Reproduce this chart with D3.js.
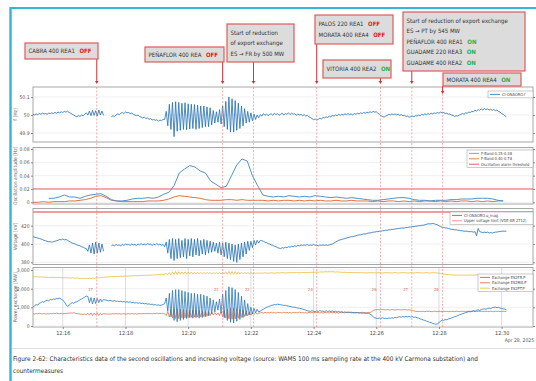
<!DOCTYPE html>
<html lang="en">
<head>
<meta charset="UTF-8">
<title>Second oscillations and increasing voltage</title>
<script src="https://d3js.org/d3.v7.min.js"></script>
<style>
  body { margin: 0; background: #fff; }
  svg text { font-family: "Liberation Sans Narrow", "DejaVu Sans Condensed", "Open Sans", sans-serif; }
</style>
</head>
<body>
<svg id="chart" width="536" height="381"></svg>
<script>
// 3 s grid from 12:15:03 (fast WAMS series)
const freq = [
  50.004,50.000,50.006,50.002,50.008,50.004,50.010,50.006,50.008,50.004,50.010,
  50.008,50.012,50.008,50.014,50.010,50.016,50.012,50.018,50.014,50.020,
  50.016,50.022,50.014,50.010,50.004,50.000,49.994,49.990,49.996,49.992,
  50.000,49.996,50.004,50.012,50.000,50.022,49.996,50.026,49.998,50.024,49.994,50.028,50.000,50.022,49.998,
  null,null,null,null,
  49.990,49.996,49.992,50.000,50.006,50.002,50.010,50.014,50.008,50.016,50.012,
  50.014,50.008,50.010,50.004,50.000,49.996,50.000,49.992,49.988,49.984,
  49.988,49.980,49.984,49.976,49.980,49.972,49.976,49.970,49.974,49.966,49.972,49.968,49.976,
  49.975,50.02,49.94,50.06,49.92,50.07,49.88,50.074,49.91,50.07,
  49.915,50.065,49.92,50.068,49.918,50.062,49.922,50.06,49.925,50.058,
  49.92,50.055,49.925,50.05,49.93,50.05,49.935,50.045,49.935,50.04,
  49.945,50.025,49.955,50.018,49.96,50.03,49.95,50.05,49.935,50.075,
  49.92,50.1,49.905,50.09,49.905,50.08,49.915,50.065,49.925,50.05,
  49.94,50.035,49.955,50.02,49.96,50.012,49.968,50.005,49.975,50.0,
  49.985,
  50.002,49.994,50.008,49.998,50.006,49.996,50.004,
  50.006,49.998,50.010,50.002,50.008,49.998,50.004,50.010,50.000,50.008,50.004,50.012,50.002,50.010,50.004,50.008,49.998,50.006,50.000,50.004,49.996,50.002,49.994,49.998,49.990,
  49.986,49.980,49.974,49.978,49.972,49.976,49.982,49.978,49.986,
  49.984,49.990,49.986,49.994,49.990,49.998,49.994,50.000,49.996,50.004,49.998,50.004,50.000,50.006,50.002,50.008,50.002,
  50.006,50.000,50.008,50.004,50.010,50.006,50.012,50.008,50.014,50.010,50.016,50.012,50.018,50.014,50.020,50.016,50.018,
  50.010,50.004,49.996,49.992,49.988,49.994,49.998,50.004,
  50.000,50.006,50.002,50.006,50.000,50.004,49.998,50.002,49.996,49.998,49.992,49.994,49.988,49.990,
  49.994,49.990,49.996,49.994,50.000,49.996,50.004,50.000,50.006,50.002,50.008,50.004,50.010,50.006,50.012,50.008,50.014,50.010,50.016,50.012,50.014,50.008,50.010,
  50.004,50.006,50.000,49.998,49.992,49.996,49.994,50.000,
  50.004,50.008,50.004,50.012,50.010,50.016,50.014,50.020,50.018,50.026,50.022,50.030,50.026,50.034,50.028,50.036,50.030,50.034,50.028,50.032,50.026,
  50.030,50.024,50.028,50.020,50.016,50.008,50.004,49.996,49.990
];

const voltage = [
  408,407.5,407,406.5,406,405.5,405,404,403.5,403,402.5,
  402.5,402,402.5,403,403.5,404,405,404.5,405.5,404.5,
  405,404,403,402,401,400.5,400,399,398.5,398,
  397,396.5,395.5,395,392,399,390,401,389,402,390,401,391,400,392,
  null,null,null,null,
  398,399,398,399.5,398.5,399,398,399.5,398.5,400,399,
  399.5,398.5,400,399,399.5,398.5,400,399,400.5,399,
  400,399,400.5,399.5,400,398.5,400,399,400.5,399,400,398.5,399.5,
  397,402,390,405,384,406,382,405,384,406,
  385,404,386,406,384,405,387,406,386,405,
  388,406,387,404,389,405,388,404,390,403,
  391,402,392,401,390,402,388,401,386,402,
  384,401,383,400,381,399,380,400,383,401,
  386,402,389,403,393,403,396,404,399,404,
  401,
  404,403.5,403,402,401.5,400.5,400,399,398.5,397.5,397,396,395.5,
  395,396,395.5,396.5,396,397,396.5,397.5,397,398,397.5,398.5,398,399,
  398.5,399,398.5,399.5,398.5,399,398.5,399.5,398.5,399,398,399,398.5,399,
  398.5,399,398.5,399,399.5,400,401,402,403,404,
  404.5,405,405.5,406,406.5,407,407.5,408,408,408.5,409,409.5,
  410,410,410.5,411,411,411.5,412,412,412.5,413,413,413.5,
  413.5,414,414,414.5,414.5,415,415,415.5,415.5,416,416,416.5,416.5,417,417,417.5,417.5,417.5,
  418,418,418.5,418.5,419,419,419.5,419.5,420,420,420.5,420.5,421,421.5,422,422,422,
  422.5,422,421.5,421,420,419,418.5,418,417.5,417.5,417,
  416.5,416,416,415.5,415.5,415,415,414.5,414.5,414,414,414,413.5,413.5,413.5,413,413.5,409,417,413.5,
  413,412.5,413,412.5,413,412,412.5,412,412.5,413,413,413.5,413.5,414,414,414,414
];

const exchangeFR = [
  1010,1080,1150,1120,1220,1250,1300,1280,1350,1380,1350,
  1420,1400,1450,1430,1480,1460,1490,1440,1380,1300,
  1150,1050,1100,1200,1250,1220,1280,1300,1350,1400,
  1450,1500,1550,1600,1580,1250,1520,1180,1500,1200,1480,1250,1450,1300,1420,
  1400,1380,1350,1370,
  1350,1330,1360,1320,1340,1300,1330,1290,1310,1280,1300,
  1270,1290,1250,1270,1230,1250,1220,1240,1200,1220,
  1190,1210,1170,1190,1150,1170,1130,1150,1110,1130,1100,1120,1150,
  1200,1500,800,1750,500,1900,300,1950,230,1950,
  300,1900,350,1850,400,1800,450,1750,420,1750,
  450,1700,420,1700,450,1650,500,1600,550,1500,
  650,1400,750,1300,850,1450,700,1700,450,1900,
  300,2100,200,2050,160,1950,250,1800,350,1600,
  450,1400,550,1200,600,1000,650,950,700,900,
  750,
  800,850,900,950,1000,1030,1060,1100,1120,1150,1130,1170,1150,
  1140,1120,1100,1110,1080,1060,1050,1030,1000,1010,980,960,950,930,900,880,850,820,800,
  780,820,790,760,810,780,830,790,800,760,820,780,800,770,810,760,790,750,780,
  740,770,730,760,720,750,730,740,710,730,700,720,690,710,680,700,670,690,680,
  640,580,500,440,
  420,400,430,410,440,400,420,390,430,410,440,420,460,440,480,
  500,470,510,480,520,490,510,480,500,460,480,
  440,420,380,360,320,300,260,240,200,180,140,120,90,110,
  180,250,320,300,350,330,380,400,430,460,500,520,560,600,
  620,660,680,720,740,770,760,800,820,790,840,860,830,880,900,
  920,890,940,960,930,980,1000,1010,980,1000,960,940,920,900,870
];

const exchangeMA = [
  660,640,670,650,680,660,650,670,640,660,650,
  670,650,680,660,690,670,660,680,650,670,
  660,690,680,700,690,710,680,660,650,640,
  630,620,640,610,680,580,700,560,690,590,700,570,680,600,670,
  640,650,630,650,
  640,660,650,670,650,660,640,650,660,640,650,
  660,640,670,650,660,640,650,670,650,660,
  670,650,680,660,670,650,680,660,690,670,680,660,690,
  650,560,780,480,860,420,900,400,920,400,
  900,420,880,430,870,450,850,460,850,470,
  840,480,830,480,820,500,800,520,780,550,
  750,580,720,600,700,560,760,500,830,430,
  900,380,950,360,960,380,920,420,880,460,
  840,500,800,540,760,580,730,620,700,640,
  690,
  700,720,690,730,700,720,710,740,700,720,690,730,710,720,700,740,710,730,700,720,
  690,730,710,720,700,740,710,730,700,720,690,730,710,720,700,740,710,730,700,720,
  690,730,710,720,700,740,710,730,700,720,690,730,710,720,700,740,710,730,700,720,
  690,730,710,720,700,740,710,730,700,720,
  720,760,820,860,870,880,860,870,880,870,860,880,870,860,880,870,
  860,870,880,870,860,870,880,870,860,870,850,830,810,790,780,
  780,770,790,780,770,790,780,790,770,780,790,780,770,790,780,770,790,780,790,770,
  780,790,780,770,790,780,770,790,780,790,770,780,790,780,770,790,780,770,790,780,
  790,770,780,790,780,770,790,780,770,790,780,790,770,780,790,780,780
];

const exchangePT = [
  2650,2640,2630,2640,2620,2630,2620,2610,2620,2610,2600,
  2610,2600,2610,2590,2600,2590,2600,2590,2580,2590,
  2580,2590,2580,2570,2580,2570,2560,2570,2560,2550,
  2560,2550,2560,2550,2540,2560,2540,2570,2550,2580,2560,2590,2580,2600,2610,
  2620,2630,2620,2640,
  2640,2650,2640,2660,2650,2660,2670,2660,2670,2680,2670,
  2680,2690,2680,2690,2700,2690,2700,2710,2700,2710,
  2720,2710,2720,2730,2720,2730,2740,2730,2740,2750,2740,2750,2760,
  2770,2800,2760,2860,2740,2900,2760,2920,2750,2910,
  2770,2900,2780,2900,2770,2890,2790,2890,2780,2880,
  2790,2880,2800,2870,2790,2870,2800,2860,2810,2860,
  2800,2850,2810,2850,2810,2860,2790,2880,2780,2900,
  2770,2920,2760,2920,2760,2910,2770,2900,2780,2880,
  2790,2870,2800,2860,2810,2850,2820,2850,2820,2840,
  2830,
  2830,2840,2830,2850,2840,2830,2840,2850,2840,2830,2840,2850,2840,2850,2860,2850,
  2840,2850,2860,2850,2860,2850,2860,2870,2860,2850,2860,2870,2860,2870,2860,2870,
  2870,2880,2870,2880,2890,2880,2890,2900,2890,2900,2910,2900,2910,2900,2910,2900,2890,2900,2890,2880,
  2880,2870,2880,2870,2860,2870,2860,2870,2860,2850,2860,2850,2860,2850,2860,2850,2840,2850,2860,2850,
  2860,2850,2840,2850,2860,2850,2840,2850,2860,2850,2860,2850,2840,2850,2860,2850,2840,2850,2860,2850,
  2860,2850,2840,2850,2860,2850,2840,2850,2860,2850,2860,2850,2840,2850,2860,2850,2840,2850,2860,2850,
  2850,2840,
  2830,2820,2800,2790,2770,2760,2750,2740,2730,2740,2730,2720,2730,2720,2730,2720,2730,
  2720,2730,2720,2740,2730,2720,2730,2740,2730,2720,2730,2740,2730,2720,
  2730,2740,2730,2720,2730,2740,2730,2720,2730,2740,2730,2720,2730
];

// 10 s grid from 12:15:03 (band amplitudes)
const ampLow = [
  null,null,null,0.006,0.006,0.008,0.011,0.008,0.008,0.006,
  0.009,0.011,0.012,0.013,0.009,0.004,0.002,0.002,0.003,0.005,
  0.006,0.006,0.007,0.006,0.008,0.012,0.015,0.025,0.044,0.050,
  0.055,0.053,0.047,0.044,0.032,0.027,0.022,0.024,0.040,0.056,
  0.065,0.062,0.040,0.025,0.011,0.009,0.008,0.009,0.008,0.010,
  0.009,0.008,0.009,0.008,0.010,0.009,0.008,0.007,0.008,0.007,
  0.006,0.007,0.006,0.005,0.004,0.003,0.003,0.004,0.005,0.006,
  0.007,0.007,0.006,0.004,0.003,0.003,0.002,0.003,0.003,0.003,
  0.004,0.004,0.005,0.005,0.005,0.006,0.006,0.006,0.005,0.003,
  0.002
];
const ampHigh = [
  0.000,0.000,0.001,0.000,0.001,0.001,0.001,0.002,0.002,0.003,
  0.004,0.006,0.009,0.010,0.007,0.003,0.002,0.001,0.001,0.001,
  0.001,0.001,0.002,0.002,0.002,0.003,0.005,0.008,0.010,0.009,
  0.008,0.007,0.006,0.004,0.003,0.003,0.003,0.004,0.004,0.003,
  0.004,0.003,0.003,0.003,
  0.003,0.002,0.003,0.002,0.003,0.003,0.002,0.003,0.002,0.003,
  0.002,0.003,0.002,0.002,0.003,0.002,0.002,0.003,0.002,0.002,
  0.002,0.001,0.002,0.001,0.002,0.002,0.001,0.002,0.001,0.002,
  0.001,0.002,0.002,0.001,0.002,0.001,0.002,0.001,0.002,0.002,
  0.001,0.002,0.001,0.002,0.001,0.002,0.002
];

const alarmThreshold = 0.02;
const voltageLimit = 435;

const eventTimes = ["12:17:05", "12:21:06", "12:22:05", "12:24:06", "12:26:08", "12:27:08", "12:28:07"];
const eventNumbers = ["17", "21", "22", "24", "26", "27", "28"];

// callout boxes, one per event, lines as [text, status]
const callouts = [
  {x: 25, y: 43, w: 73, h: 16, tip: 84, lines: [["CABRA 400 REA1", "OFF"]]},
  {x: 145, y: 47, w: 79, h: 15, tip: 84, lines: [["PEÑAFLOR 400 REA", "OFF"]]},
  {x: 227, y: 24, w: 67, h: 38, tip: 84, lines: [["Start of reduction", ""], ["of export exchange", ""], ["ES → FR by 500 MW", ""]]},
  {x: 315, y: 15, w: 78, h: 29, tip: 84, lines: [["PALOS 220 REA1", "OFF"], ["MORATA 400 REA4", "OFF"]]},
  {x: 323, y: 60, w: 68, h: 18, tip: 84, lines: [["VITORIA 400 REA2", "ON"]]},
  {x: 403, y: 12, w: 122, h: 59, tip: 84, lines: [["Start of reduction of export exchange", ""], ["ES → PT by 545 MW", ""],
      ["PEÑAFLOR 400 REA1", "ON"], ["GUADAME 220 REA3", "ON"], ["GUADAME 400 REA2", "ON"]]},
  {x: 443, y: 73, w: 78, h: 13, tip: 94, lines: [["MORATA 400 REA4", "ON"]]}
];

const blue = "#1f6fb2", lightBlue = "#4f93c8", orange = "#e0622b", yellow = "#eabb35", red = "#e03a3a";

const svg = d3.select("#chart");
const day = new Date(2025, 3, 28, 12, 15, 0);
const at = s => new Date(+day + s * 1000);
const parseT = d3.timeParse("%H:%M:%S");
const eventDates = eventTimes.map(s => { const p = parseT(s); return at(p.getHours() * 3600 + p.getMinutes() * 60 + p.getSeconds() - 12 * 3600 - 15 * 60); });
const fastT = freq.map((_, i) => at(3 + 3 * i));
const slowT = ampLow.map((_, k) => at(3 + 10 * k));

const x = d3.scaleTime().domain([at(3), at(960)]).range([33, 533]);

// frame
svg.append("line").attr("x1", 10.5).attr("x2", 536).attr("y1", 8).attr("y2", 8).attr("stroke", "#33b5d6").attr("stroke-width", 2);
svg.append("line").attr("x1", 10.5).attr("x2", 10.5).attr("y1", 7).attr("y2", 381).attr("stroke", "#33b5d6").attr("stroke-width", 2.4);

const panels = [
  {top: 87, bottom: 142, y: d3.scaleLinear([49.9, 50.1], [133, 97]), ticks: [49.9, 50, 50.1], fmt: d3.format(".3~g"), label: "f [Hz]"},
  {top: 147.5, bottom: 204, y: d3.scaleLinear([0, 0.08], [202.3, 149]), ticks: [0, 0.02, 0.04, 0.06, 0.08], fmt: d => d === 0 ? "0" : d3.format(".2f")(d), label: "Oscillation amplitude [Hz]"},
  {top: 208.5, bottom: 264.5, y: d3.scaleLinear([380, 420], [262.3, 225.7]), ticks: [380, 400, 420], fmt: d3.format("d"), label: "Voltage [kV]"},
  {top: 267.5, bottom: 327, y: d3.scaleLinear([0, 3000], [326, 270]), ticks: [0, 1000, 2000, 3000], fmt: d3.format(","), label: "Power exchange [MW]"}
];

const minuteTicks = d3.timeMinute.every(2).range(at(60), at(961));

panels.forEach((p, n) => {
  const g = svg.append("g");
  g.append("rect").attr("x", 33).attr("y", p.top).attr("width", 500).attr("height", p.bottom - p.top)
    .attr("fill", "#fff").attr("stroke", "#a8a8a8").attr("stroke-width", 1);
  g.selectAll(".hg").data(p.ticks).join("line")
    .attr("x1", 33).attr("x2", 533).attr("y1", d => p.y(d)).attr("y2", d => p.y(d))
    .attr("stroke", "#e6e6e6").attr("stroke-width", 0.6);
  if (n === 3) {
    g.selectAll(".vg").data(minuteTicks).join("line")
      .attr("x1", d => x(d)).attr("x2", d => x(d)).attr("y1", p.top).attr("y2", p.bottom)
      .attr("stroke", "#cfcfcf").attr("stroke-width", 0.7);
  }
  const ax = g.append("g").attr("transform", "translate(33,0)")
    .call(d3.axisLeft(p.y).tickValues(p.ticks).tickFormat(p.fmt).tickSize(2).tickPadding(1.5));
  ax.select(".domain").remove();
  ax.selectAll("line").attr("stroke", "#888");
  ax.selectAll("text").attr("font-size", 5).attr("fill", "#555");
  const axr = g.append("g").attr("transform", "translate(533,0)")
    .call(d3.axisRight(p.y).tickValues(p.ticks).tickFormat("").tickSize(2));
  axr.select(".domain").remove();
  axr.selectAll("line").attr("stroke", "#888");
  g.append("text").attr("transform", `translate(17,${(p.top + p.bottom) / 2}) rotate(-90)`)
    .attr("text-anchor", "middle").attr("font-size", 5).attr("fill", "#666").text(p.label);
  svg.append("clipPath").attr("id", "clip" + n).append("rect")
    .attr("x", 33).attr("y", p.top).attr("width", 500).attr("height", p.bottom - p.top);
  p.plot = svg.append("g").attr("clip-path", `url(#clip${n})`);
});

const lineFor = (y, times) => d3.line().defined(d => d != null).x((d, i) => x(times[i])).y(d => y(d));

// panel 1: frequency
panels[0].plot.append("path").attr("d", lineFor(panels[0].y, fastT)(freq))
  .attr("fill", "none").attr("stroke", blue).attr("stroke-width", 0.8);

// panel 2: band amplitudes
const p2 = panels[1];
p2.plot.append("line").attr("x1", 33).attr("x2", 533).attr("y1", p2.y(alarmThreshold)).attr("y2", p2.y(alarmThreshold))
  .attr("stroke", red).attr("stroke-width", 0.8);
p2.plot.append("path").attr("d", lineFor(p2.y, slowT)(ampHigh)).attr("fill", "none").attr("stroke", orange).attr("stroke-width", 0.9);
p2.plot.append("path").attr("d", lineFor(p2.y, slowT)(ampLow)).attr("fill", "none").attr("stroke", lightBlue).attr("stroke-width", 1);

// panel 3: voltage
const p3 = panels[2];
p3.plot.append("line").attr("x1", 33).attr("x2", 533).attr("y1", p3.y(voltageLimit)).attr("y2", p3.y(voltageLimit))
  .attr("stroke", "#f07a7a").attr("stroke-width", 1.3);
p3.plot.append("path").attr("d", lineFor(p3.y, fastT)(voltage)).attr("fill", "none").attr("stroke", blue).attr("stroke-width", 0.8);

// panel 4: exchanges
const p4 = panels[3];
p4.plot.append("path").attr("d", lineFor(p4.y, fastT)(exchangePT)).attr("fill", "none").attr("stroke", yellow).attr("stroke-width", 0.8);
p4.plot.append("path").attr("d", lineFor(p4.y, fastT)(exchangeMA)).attr("fill", "none").attr("stroke", orange).attr("stroke-width", 0.7);
p4.plot.append("path").attr("d", lineFor(p4.y, fastT)(exchangeFR)).attr("fill", "none").attr("stroke", "#2a78bd").attr("stroke-width", 0.8);

// event markers
svg.selectAll(".ev").data(eventDates).join("line")
  .attr("x1", d => x(d)).attr("x2", d => x(d)).attr("y1", 87).attr("y2", 327)
  .attr("stroke", "#ef7b7b").attr("stroke-width", 0.6).attr("stroke-dasharray", "2,1.5");
svg.selectAll(".evn").data(eventDates).join("text")
  .attr("x", d => x(d) - 4).attr("y", 291).attr("text-anchor", "end")
  .attr("font-size", 4).attr("fill", "#e06060").text((d, i) => eventNumbers[i]);

// x axis
const xa = svg.append("g").attr("transform", "translate(0,327)")
  .call(d3.axisBottom(x).tickValues(minuteTicks).tickFormat(d3.timeFormat("%H:%M")).tickSize(2).tickPadding(2));
xa.select(".domain").remove();
xa.selectAll("line").attr("stroke", "#888");
xa.selectAll("text").attr("font-size", 5.5).attr("fill", "#444");
svg.append("text").attr("x", 534).attr("y", 342).attr("text-anchor", "end").attr("font-size", 5).attr("fill", "#555").text("Apr 28, 2025");

// legends
const legends = [
  {x: 488, y: 91, w: 45, rows: [["CI-ONAORO.f", blue]]},
  {x: 467, y: 150, w: 66, rows: [["F-Band 0.15-0.38", lightBlue], ["F-Band 0.40-0.78", orange], ["Oscillation alarm threshold", red]]},
  {x: 450, y: 212, w: 83, rows: [["CI-ONAORO.u_mag", blue], ["Upper voltage limit (VDE-AR 2712)", "#f07a7a"]]},
  {x: 478, y: 274, w: 55, rows: [["Exchange ES2FR.P", "#2a78bd"], ["Exchange ES2MA.P", orange], ["Exchange ES2PT.P", yellow]]}
];
legends.forEach(l => {
  const g = svg.append("g");
  g.append("rect").attr("x", l.x).attr("y", l.y).attr("width", l.w).attr("height", l.rows.length * 5.4 + 1.5)
    .attr("fill", "#fff").attr("stroke", "#999").attr("stroke-width", 0.5);
  l.rows.forEach((r, i) => {
    const cy = l.y + 3.4 + i * 5.4;
    g.append("line").attr("x1", l.x + 2).attr("x2", l.x + 12).attr("y1", cy).attr("y2", cy).attr("stroke", r[1]).attr("stroke-width", 0.8);
    g.append("text").attr("x", l.x + 14).attr("y", cy + 1.4).attr("font-size", 4).attr("fill", "#444").text(r[0]);
  });
});

// callouts
callouts.forEach((c, i) => {
  const ex = x(eventDates[i]);
  svg.append("line").attr("x1", ex).attr("x2", ex).attr("y1", c.y + c.h).attr("y2", c.tip - 2)
    .attr("stroke", "#d8323c").attr("stroke-width", 1);
  svg.append("path").attr("d", `M${ex - 1.8},${c.tip - 3}L${ex + 1.8},${c.tip - 3}L${ex},${c.tip}Z`).attr("fill", "#d8323c");
  svg.append("rect").attr("x", c.x).attr("y", c.y).attr("width", c.w).attr("height", c.h)
    .attr("fill", "#dcdcdc").attr("stroke", "#e05a5a").attr("stroke-width", 1.2);
  const n = c.lines.length;
  c.lines.forEach((ln, j) => {
    const ty = c.y + (c.h - n * 10.5) / 2 + 10.5 * j + 7.3;
    const t = svg.append("text").attr("x", c.x + 3.5).attr("y", ty)
      .attr("font-size", 6).attr("fill", "#333").text(ln[0]);
    if (ln[1]) {
      const w = t.node().getComputedTextLength();
      svg.append("text").attr("x", c.x + 3.5 + w + 4.5).attr("y", ty)
        .attr("font-size", 6).attr("font-weight", "bold")
        .attr("fill", ln[1] === "OFF" ? "#e8141b" : "#22b14c").text(ln[1]);
    }
  });
});

// caption
svg.append("line").attr("x1", 12).attr("x2", 536).attr("y1", 348.5).attr("y2", 348.5).attr("stroke", "#c8c8c8").attr("stroke-width", 0.6);
const cap = svg.append("text").attr("font-size", 6.4).attr("fill", "#333");
cap.append("tspan").attr("x", 13).attr("y", 360.5).attr("textLength", 465).attr("lengthAdjust", "spacingAndGlyphs")
  .text("Figure 2-62: Characteristics data of the second oscillations and increasing voltage (source: WAMS 100 ms sampling rate at the 400 kV Carmona substation) and");
cap.append("tspan").attr("x", 13).attr("y", 372.5).text("countermeasures");
</script>
</body>
</html>
